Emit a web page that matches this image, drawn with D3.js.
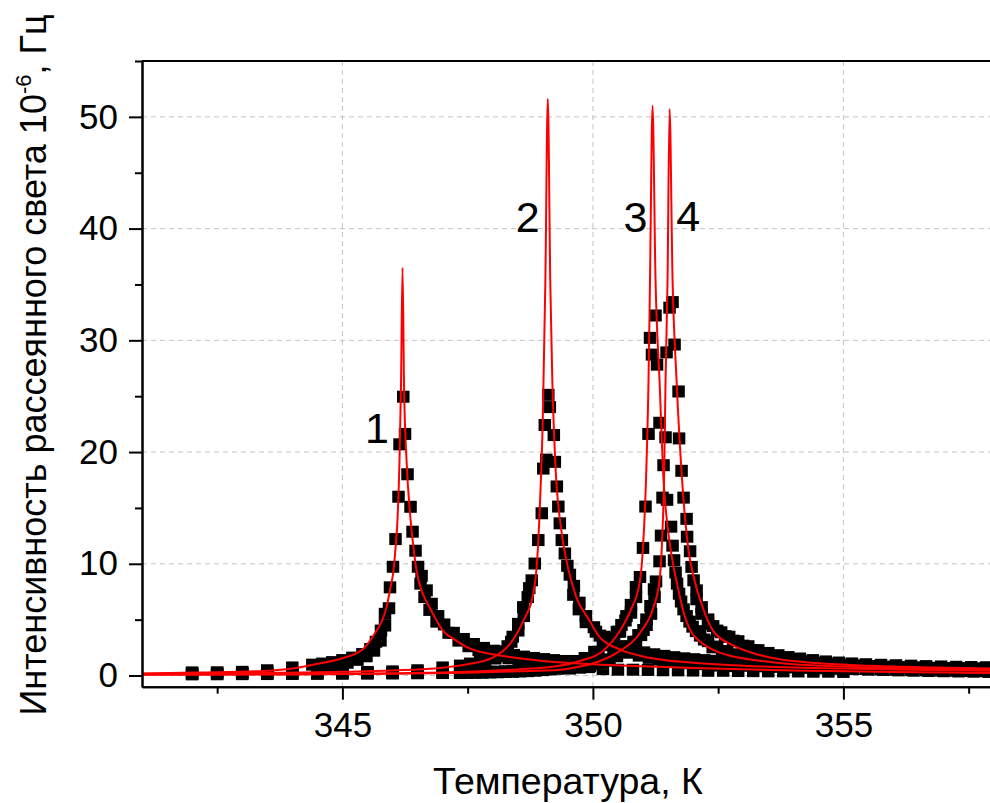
<!DOCTYPE html>
<html>
<head>
<meta charset="utf-8">
<script src="https://cdn.jsdelivr.net/npm/d3@7"></script>
<style>
  body { margin: 0; background: #fff; }
  svg { display: block; }
</style>
</head>
<body>
<div id="chart"></div>
<script>
const series1 = [
  [342.0,0.26],[342.5,0.27],[343.0,0.31],[343.5,0.45],[344.0,0.70],
  [344.4,0.95],[344.5,0.70],[344.6,1.05],[344.7,0.80],[344.8,1.18],[344.9,0.92],[345.0,1.36],[345.1,1.12],
  [345.2,1.58],[345.3,1.38],[345.4,1.90],[345.48,1.70],[345.56,2.35],[345.63,2.20],[345.67,3.0],[345.76,3.1],
  [345.77,4.0],[345.85,4.45],[345.85,5.50],[345.93,6.0],[345.95,7.87],[346.01,9.71],[346.06,12.19],
  [346.12,15.98],[346.14,20.67],[346.215,24.93],
  [346.25,21.6],[346.30,17.99],[346.36,15.08],[346.40,12.85],[346.46,11.15],[346.51,9.71],[346.58,8.9],
  [346.56,8.2],[346.68,7.6],[346.64,7.0],[346.78,6.4],[346.74,5.85],[346.91,5.3],[346.88,4.8],
  [347.03,4.55],[347.12,3.8],[347.22,3.8],[347.32,3.1],[347.42,3.25],[347.52,2.6],[347.62,2.8],[347.72,2.25],
  [347.82,2.45],[347.92,1.95],[348.02,2.2],[348.12,1.7],[348.22,1.98],[348.32,1.52],[348.42,1.82],[348.52,1.36],
  [348.62,1.67],[348.72,1.23],[348.82,1.55],[348.92,1.12],[349.02,1.45],[349.12,1.02],[349.22,1.36],[349.32,0.94],
  [349.42,1.28],[349.52,0.86],[349.62,1.2],[349.72,0.79],[349.82,1.14],[349.92,0.73],
  [350.2,0.55],[350.5,0.5],[350.8,0.5],[351.1,0.48],[351.4,0.45],[351.7,0.44],[352.0,0.42],[352.3,0.4],
  [352.6,0.4],[352.9,0.38],[353.2,0.37],[353.5,0.35],[353.8,0.35],[354.1,0.34],[354.4,0.32],[354.7,0.32],[355.0,0.3]
];
const series2 = [
  [342.0,0.18],[342.5,0.2],[343.0,0.22],[343.5,0.24],[344.0,0.25],[344.5,0.26],[345.0,0.27],[345.5,0.3],
  [346.0,0.35],[346.5,0.45],[347.0,0.7],
  [347.35,0.87],[347.45,0.65],[347.55,1.05],[347.65,0.85],[347.75,1.3],[347.85,1.1],[347.95,1.65],[348.05,1.5],
  [348.14,2.15],[348.22,2.05],[348.3,2.6],[348.37,3.0],[348.4,3.45],[348.51,4.0],[348.51,4.6],[348.62,5.3],
  [348.61,6.1],[348.70,7.0],[348.73,7.8],[348.78,8.5],[348.84,10.0],[348.91,12.1],[348.98,14.5],[349.01,18.5],
  [349.07,19.3],[349.04,22.4],[349.14,24.0],[349.11,25.1],
  [349.22,21.5],[349.24,19.1],[349.28,16.9],[349.31,15.1],[349.34,13.6],[349.38,12.1],[349.44,10.9],[349.49,9.8],
  [349.54,9.0],[349.62,8.0],[349.61,7.2],[349.73,6.5],[349.72,5.9],[349.86,5.3],[349.86,4.75],[350.02,4.3],
  [350.06,3.9],[350.14,3.55],[350.23,3.45],[350.32,2.8],[350.42,2.95],[350.52,2.35],[350.62,2.58],[350.72,2.02],
  [350.82,2.28],[350.92,1.76],[351.02,2.05],[351.12,1.56],[351.22,1.88],[351.32,1.41],[351.42,1.74],[351.52,1.28],
  [351.62,1.62],[351.72,1.17],[351.82,1.52],[351.92,1.08],[352.02,1.44],[352.12,1.0],[352.22,1.36],[352.32,0.93],
  [352.42,1.3],[352.52,0.87],[352.62,1.24],[352.72,0.82],[352.82,1.2],
  [353.1,0.85],[353.4,0.8],[353.7,0.75],[354.0,0.7],[354.3,0.66],[354.6,0.62],[354.9,0.58],[355.2,0.55],
  [355.5,0.5],[355.8,0.47],[356.1,0.44],[356.4,0.41],[356.7,0.38],[357.0,0.36],[357.3,0.34],[357.6,0.32],[357.9,0.3]
];
const series3 = [
  [342.0,0.12],[342.5,0.13],[343.0,0.14],[343.5,0.15],[344.0,0.16],[344.5,0.17],[345.0,0.18],[345.5,0.19],
  [346.0,0.2],[346.5,0.22],[347.0,0.24],
  [347.35,0.25],[347.5,0.26],[347.65,0.27],[347.8,0.29],[347.95,0.31],[348.1,0.33],[348.25,0.36],[348.4,0.39],
  [348.55,0.43],[348.7,0.48],[348.85,0.54],[349.0,0.62],[349.15,0.72],[349.3,0.84],[349.42,1.1],[349.54,0.92],
  [349.64,1.28],[349.74,1.05],[349.84,1.55],[349.94,1.5],[350.03,2.1],[350.11,2.1],[350.2,2.7],[350.28,2.7],
  [350.35,3.3],[350.42,3.3],[350.48,3.9],[350.54,3.9],[350.57,4.5],[350.65,4.9],[350.67,5.3],[350.76,5.6],
  [350.76,6.3],[350.86,7.0],[350.86,7.9],[350.94,8.8],[351.0,11.4],[351.05,15.1],[351.11,21.6],[351.14,30.2],
  [351.18,28.7],
  [351.25,32.2],[351.28,27.8],[351.33,22.6],[351.41,18.8],[351.48,15.7],[351.56,13.3],[351.59,11.6],[351.62,10.3],
  [351.65,9.2],[351.68,8.2],[351.72,7.3],[351.76,6.6],[351.81,5.9],[351.87,5.3],[351.93,4.8],[351.99,4.35],
  [352.06,3.95],[352.14,3.55],[352.22,3.2],[352.3,3.05],[352.39,2.5],[352.48,2.57],[352.58,2.05],[352.68,2.17],
  [352.78,1.71],[352.88,1.88],[352.98,1.47],[353.08,1.67],[353.18,1.29],[353.28,1.51],[353.38,1.15],[353.48,1.39],
  [353.58,1.04],[353.68,1.29],[353.78,0.95],[353.88,1.21],[353.98,0.87],[354.1,1.13],[354.25,0.79],[354.4,1.05],
  [354.55,0.72],[354.7,0.97],[354.85,0.66],[355.0,0.9],[355.15,0.6],[355.3,0.85],[355.45,0.56],[355.6,0.8],
  [355.75,0.52],[355.9,0.76],[356.05,0.49],[356.2,0.72],[356.35,0.46],[356.5,0.68],[356.65,0.44],[356.8,0.65],
  [356.95,0.42],[357.1,0.62],[357.25,0.4],[357.4,0.6],[357.55,0.38],[357.7,0.57],[357.85,0.36],[358.0,0.55]
];
const series4 = [
  [342.0,0.08],[342.5,0.09],[343.0,0.1],[343.5,0.11],[344.0,0.12],[344.5,0.13],[345.0,0.14],[345.5,0.15],
  [346.0,0.16],[346.5,0.18],[347.0,0.2],
  [347.35,0.2],[347.5,0.21],[347.65,0.22],[347.8,0.23],[347.95,0.25],[348.1,0.27],[348.25,0.29],[348.4,0.31],
  [348.55,0.34],[348.7,0.37],[348.85,0.41],[349.0,0.46],[349.15,0.52],[349.3,0.58],[349.42,0.76],[349.54,0.6],
  [349.64,0.86],[349.74,0.68],[349.84,0.98],[349.94,0.82],[350.04,1.16],[350.14,1.0],[350.24,1.42],[350.33,1.3],
  [350.41,1.82],[350.48,1.7],[350.55,2.2],[350.62,2.1],[350.68,2.6],[350.75,2.5],[350.81,3.0],[350.86,3.0],
  [350.91,3.6],[350.96,3.6],[351.01,4.05],[351.07,4.5],[351.07,5.0],[351.16,5.5],[351.15,6.2],[351.23,7.0],
  [351.22,7.7],[351.26,8.4],[351.33,10.2],[351.36,12.5],[351.39,15.9],[351.45,21.3],[351.47,28.9],[351.53,32.9],
  [351.59,33.4],[351.63,29.6],[351.71,25.4],[351.72,21.2],[351.77,18.3],[351.81,15.9],[351.87,14.0],[351.88,12.4],
  [351.94,11.1],[351.97,9.7],[352.01,8.5],[352.07,7.6],[352.07,6.8],[352.17,6.1],[352.17,5.5],[352.3,5.0],
  [352.3,4.6],[352.4,4.4],[352.48,4.0],[352.56,3.85],[352.64,3.5],[352.72,3.45],[352.8,3.1],[352.9,3.05],
  [353.0,2.65],[353.1,2.6],[353.2,2.25],[353.3,2.25],[353.4,1.95],[353.5,2.0],[353.6,1.72],[353.7,1.8],
  [353.8,1.53],[353.9,1.63],[354.0,1.38],[354.13,1.5],[354.26,1.24],[354.39,1.36],[354.52,1.12],[354.65,1.24],
  [354.78,1.02],[354.91,1.14],[355.04,0.94],[355.17,1.06],[355.3,0.88],[355.45,0.99],[355.6,0.82],[355.75,0.94],
  [355.9,0.77],[356.05,0.9],[356.2,0.73],[356.35,0.86],[356.5,0.7],[356.65,0.82],[356.8,0.67],[356.95,0.79],
  [357.1,0.65],[357.25,0.76],[357.4,0.63],[357.55,0.74],[357.7,0.62],[357.85,0.72],[358.0,0.61]
];

// fitted curves (red)
const fit1 = [
  [341.0,0.18],[342.1,0.27],[343.4,0.4],[344.1,0.7],[344.5,1.05],[345.0,1.55],[345.42,2.4],[345.68,4.0],
  [345.8,5.0],[345.88,6.1],[345.96,7.9],[346.02,9.4],[346.06,11.4],[346.1,14.0],[346.14,19.3],[346.17,26.0],
  [346.2,36.5],[346.23,26.0],[346.28,19.3],[346.35,14.5],[346.41,11.8],[346.48,9.4],[346.58,7.6],[346.68,6.6],
  [346.81,5.5],[347.01,4.0],[347.21,3.3],[347.55,2.4],[348.15,1.8],[348.6,1.5],[349.0,1.3],[350.0,1.0],
  [351.0,0.82],[352.0,0.68],[353.0,0.56],[354.0,0.46],[355.0,0.38],[356.0,0.31],[357.0,0.26],[358.0,0.22]
];
const fit2 = [
  [341.0,0.15],[343.0,0.22],[345.0,0.33],[346.0,0.45],[347.0,0.7],[347.5,1.0],[348.0,1.6],[348.35,2.85],
  [348.61,4.9],[348.81,7.3],[348.89,10.5],[348.94,15.0],[349.0,23.0],[349.05,35.0],[349.1,51.6],[349.15,35.0],
  [349.19,26.4],[349.25,19.0],[349.37,13.0],[349.5,9.7],[349.67,7.0],[349.93,4.94],[350.13,3.45],[350.5,2.4],
  [351.0,1.7],[351.5,1.35],[352.0,1.15],[353.0,0.88],[354.0,0.72],[355.0,0.62],[356.0,0.54],[357.0,0.47],[358.0,0.42]
];
const fit3 = [
  [341.0,0.08],[344.0,0.12],[346.0,0.2],[347.5,0.33],[348.5,0.55],[349.3,0.85],[349.74,1.3],[350.2,2.2],
  [350.54,4.0],[350.75,5.8],[350.94,8.5],[351.0,11.5],[351.06,17.5],[351.11,26.4],[351.14,35.4],[351.19,51.0],
  [351.25,35.4],[351.33,26.4],[351.41,17.5],[351.5,13.0],[351.6,10.0],[351.7,7.8],[351.82,5.5],[351.95,4.0],
  [352.15,3.0],[352.4,2.3],[352.8,1.7],[353.3,1.35],[354.0,1.02],[355.0,0.8],[356.0,0.67],[357.0,0.58],[358.0,0.52]
];
const fit4 = [
  [341.0,0.07],[344.0,0.1],[346.0,0.15],[347.5,0.25],[348.5,0.38],[349.3,0.5],[349.74,0.8],[350.14,1.3],
  [350.5,2.1],[350.97,4.0],[351.2,6.0],[351.33,8.5],[351.38,12.0],[351.42,17.5],[351.45,26.4],[351.49,35.4],
  [351.53,50.7],[351.59,35.4],[351.67,26.4],[351.78,17.5],[351.9,11.5],[352.03,8.5],[352.2,6.0],[352.4,4.0],
  [352.8,2.7],[353.2,2.0],[353.73,1.45],[354.5,1.1],[355.5,0.88],[356.5,0.75],[358.0,0.63]
];

// curve numbers and where they sit (data units)
const curveNames = ["1", "2", "3", "4"];
const nameT = [345.69, 348.70, 350.85, 351.90];
const nameI = [20.84, 39.73, 39.73, 39.8];

const xTicks = [345, 350, 355];
const xMinor = [342.5, 347.5, 352.5, 357.5];
const yTicks = [0, 10, 20, 30, 40, 50];
const yMinor = [5, 15, 25, 35, 45, 55];

const w = 990;
const h = 803;
const font = "'Liberation Sans', Arial, sans-serif";

const xScale = d3.scaleLinear()
  .domain([341, 358])
  .range([142, 993.7]);

const yScale = d3.scaleLinear()
  .domain([-1, 55])
  .range([686.7, 61]);

const svg = d3.select("#chart")
  .append("svg")
  .attr("width", w)
  .attr("height", h);

svg.append("defs").append("clipPath")
  .attr("id", "plot")
  .append("rect")
  .attr("x", 142)
  .attr("y", 61)
  .attr("width", 851.7)
  .attr("height", 625.7);

// dashed grid
const grid = svg.append("g")
  .attr("stroke", "#c4c4c4")
  .attr("stroke-width", 1)
  .attr("stroke-dasharray", "5,4");

grid.selectAll(".gx")
  .data(xTicks)
  .enter()
  .append("line")
  .attr("x1", d => xScale(d))
  .attr("x2", d => xScale(d))
  .attr("y1", yScale(55))
  .attr("y2", yScale(-1));

grid.selectAll(".gy")
  .data(yTicks)
  .enter()
  .append("line")
  .attr("x1", xScale(341))
  .attr("x2", xScale(358))
  .attr("y1", d => yScale(d))
  .attr("y2", d => yScale(d));

const plot = svg.append("g").attr("clip-path", "url(#plot)");

// black squares
const allPoints = [series1, series2, series3, series4];
const sq = 12.5;
allPoints.forEach(function (s) {
  plot.append("g")
    .selectAll("rect")
    .data(s)
    .enter()
    .append("rect")
    .attr("x", d => xScale(d[0]) - sq / 2)
    .attr("y", d => yScale(d[1]) - sq / 2)
    .attr("width", sq)
    .attr("height", sq - 0.5)
    .attr("fill", "#000");
});

// red fits
const line = d3.line()
  .x(d => xScale(d[0]))
  .y(d => yScale(d[1]))
  .curve(d3.curveMonotoneX);

[fit1, fit2, fit3, fit4].forEach(function (f) {
  plot.append("path")
    .attr("d", line(f))
    .attr("fill", "none")
    .attr("stroke", "#ff0000")
    .attr("stroke-width", 2);
});

// axes
function styleAxis(g) {
  g.selectAll("path, line").attr("stroke", "#000").attr("stroke-width", 2);
  g.selectAll("text").attr("font-family", font).attr("font-size", 35).attr("fill", "#000");
}

svg.append("g")
  .attr("transform", "translate(0, 686.7)")
  .call(d3.axisBottom(xScale).tickValues(xTicks).tickSize(13).tickSizeOuter(0).tickPadding(12).tickFormat(d3.format("d")))
  .call(styleAxis);

svg.append("g")
  .attr("transform", "translate(0, 686.7)")
  .call(d3.axisBottom(xScale).tickValues(xMinor).tickSize(7).tickSizeOuter(0).tickFormat(""))
  .call(styleAxis);

svg.append("g")
  .attr("transform", "translate(142, 0)")
  .call(d3.axisLeft(yScale).tickValues(yTicks).tickSize(13).tickSizeOuter(0).tickPadding(11))
  .call(styleAxis);

svg.append("g")
  .attr("transform", "translate(142, 0)")
  .call(d3.axisLeft(yScale).tickValues(yMinor).tickSize(7).tickSizeOuter(0).tickFormat(""))
  .call(styleAxis);

// top frame
svg.append("line")
  .attr("x1", xScale(341))
  .attr("x2", xScale(358))
  .attr("y1", yScale(55))
  .attr("y2", yScale(55))
  .attr("stroke", "#000")
  .attr("stroke-width", 2);

// curve numbers
svg.selectAll(".cname")
  .data(curveNames)
  .enter()
  .append("text")
  .attr("x", (d, i) => xScale(nameT[i]))
  .attr("y", (d, i) => yScale(nameI[i]))
  .attr("text-anchor", "middle")
  .attr("font-family", font)
  .attr("font-size", 43)
  .text(d => d);

// axis titles
svg.append("text")
  .attr("x", 568)
  .attr("y", 794)
  .attr("text-anchor", "middle")
  .attr("font-family", font)
  .attr("font-size", 37.5)
  .text("Температура, К");

const yt = svg.append("text")
  .attr("transform", "translate(46, 365) rotate(-90)")
  .attr("text-anchor", "middle")
  .attr("font-family", font)
  .attr("font-size", 36);
yt.append("tspan").text("Интенсивность рассеянного света 10");
yt.append("tspan").attr("font-size", 22).attr("dy", -15).text("-6");
yt.append("tspan").attr("dy", 15).text(", Гц");
</script>
</body>
</html>
